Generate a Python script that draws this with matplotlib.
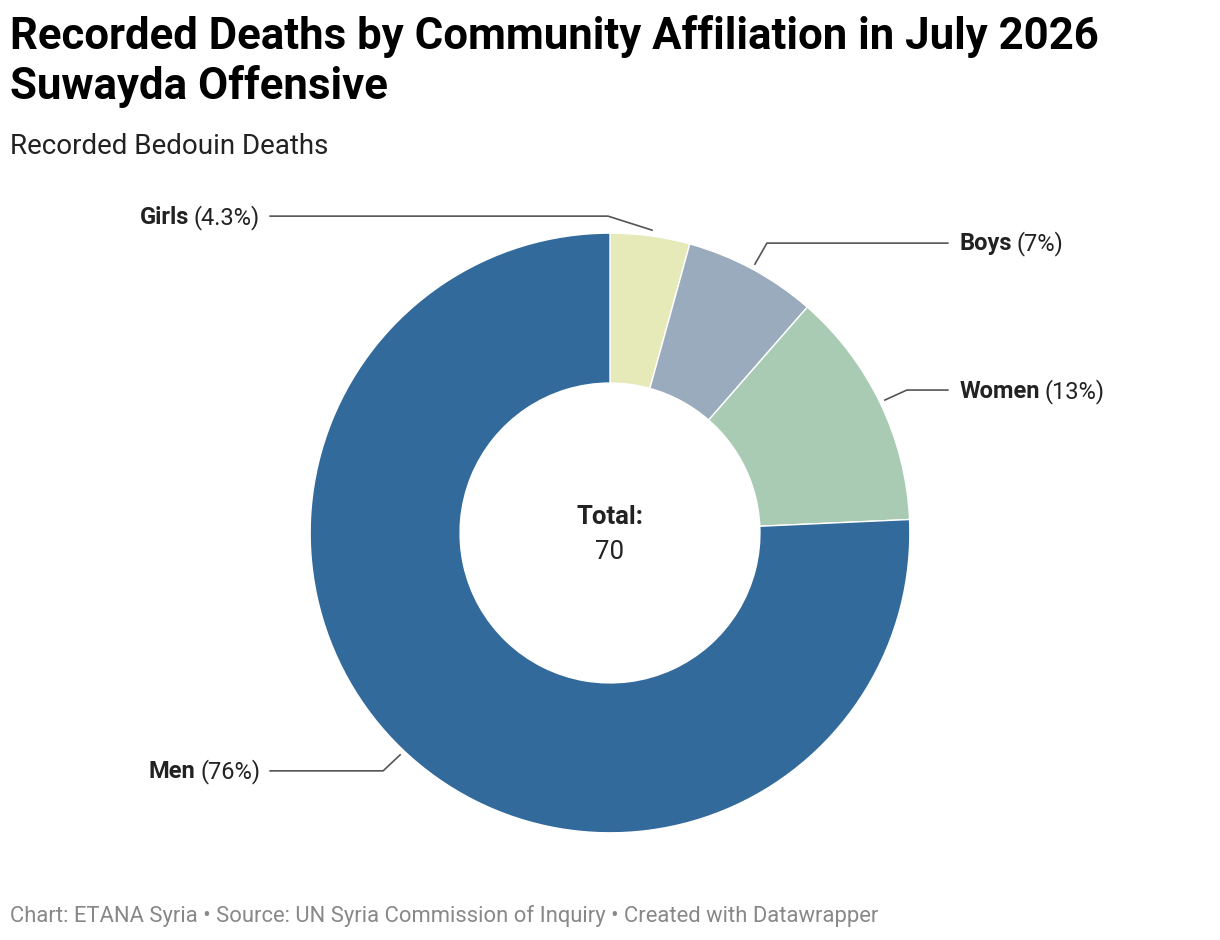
import matplotlib
matplotlib.use("Agg")
import matplotlib.pyplot as plt

categories = ["Girls", "Boys", "Women", "Men"]
values = [3, 5, 9, 53]
pct_labels = ["4.3%", "7%", "13%", "76%"]
colors = ["#e6e9b8", "#9aabbd", "#a9cbb3", "#336a9c"]

plt.rcParams['font.family'] = ['Roboto', 'DejaVu Sans']
fig = plt.figure(figsize=(12.2, 9.4), dpi=100)
ax = fig.add_axes([0.254, 0.114, 0.492, 0.638])
ax.pie(values, colors=colors, startangle=90, counterclock=False, radius=1,
       wedgeprops=dict(width=0.5, edgecolor="white", linewidth=1))
ax.set_xlim(-1, 1); ax.set_ylim(-1, 1); ax.set_aspect("equal"); ax.axis("off")

def d(px, py):
    return ((px - 610) / 300, (533 - py) / 300)

lines = {
    "Girls": [(270, 216), (608, 216), (652, 230)],
    "Boys": [(755, 264), (767, 243), (948, 243)],
    "Women": [(885, 400), (907, 390), (948, 390)],
    "Men": [(400, 755), (383, 771), (270, 771)],
}
anchors = {"Girls": (260, 217, "right"), "Boys": (960, 243, "left"),
           "Women": (960, 391, "left"), "Men": (260, 772, "right")}
FS = 17
for c, p in zip(categories, pct_labels):
    pts = [d(*q) for q in lines[c]]
    ax.plot([q[0] for q in pts], [q[1] for q in pts], color="#555555", lw=1.2, clip_on=False)
    px, py, ha = anchors[c]
    x, y = d(px, py)
    if ha == "right":
        t = ax.text(x, y, f"({p})", ha="right", va="center", fontsize=FS, color="#222222")
        fig.canvas.draw()
        bb = t.get_window_extent().transformed(ax.transData.inverted())
        ax.text(bb.x0 - 0.015, y, c, ha="right", va="center", fontsize=FS, fontweight="bold", color="#222222")
    else:
        t = ax.text(x, y, c, ha="left", va="center", fontsize=FS, fontweight="bold", color="#222222")
        fig.canvas.draw()
        bb = t.get_window_extent().transformed(ax.transData.inverted())
        ax.text(bb.x1 + 0.015, y, f"({p})", ha="left", va="center", fontsize=FS, color="#222222")

ax.text(0, d(0, 517)[1], "Total:", ha="center", va="center", fontsize=18.5, fontweight="bold", color="#222222")
ax.text(0, d(0, 552)[1], str(sum(values)), ha="center", va="center", fontsize=18.5, color="#222222")

fig.text(10/1220, 1-36/940, "Recorded Deaths by Community Affiliation in July 2026", fontsize=31.5, fontweight="bold", va="center")
fig.text(10/1220, 1-87/940, "Suwayda Offensive", fontsize=31.5, fontweight="bold", va="center")
fig.text(10/1220, 1-147/940, "Recorded Bedouin Deaths", fontsize=20, va="center", color="#222222")
fig.text(10/1220, 1-916/940, "Chart: ETANA Syria • Source: UN Syria Commission of Inquiry • Created with Datawrapper",
         fontsize=15.8, va="center", color="#888888")
fig.savefig("out.png", dpi=100, facecolor="white")
